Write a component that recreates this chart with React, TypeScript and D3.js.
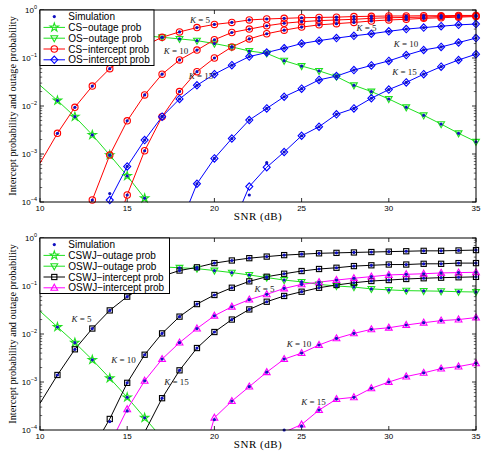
import React from 'react';
import * as d3 from 'd3';

const N = null;
const SNR = [10, 11, 12, 13, 14, 15, 16, 17, 18, 19, 20, 21, 22, 23, 24, 25, 26, 27, 28, 29, 30, 31, 32, 33, 34, 35];
const X_TICKS = [10, 15, 20, 25, 30, 35];
const Y_TICKS = [1e-4, 1e-3, 1e-2, 1e-1, 1];
const Y_TICK_EXP = ['\u22124', '\u22123', '\u22122', '\u22121', '0'];

// ---------- top panel ----------
const CS_OUTAGE = [0.027, 0.013, 0.006, 0.0025, 0.00095, 0.00035, 0.00012, 0.000015, N, N, N, N, N, N, N, N, N, N, N, N, N, N, N, N, N, N];
const OS_OUTAGE = [0.3, 0.3, 0.3, 0.3, 0.3, 0.3, 0.29, 0.27, 0.25, 0.23, 0.2, 0.17, 0.14, 0.125, 0.088, 0.068, 0.054, 0.041, 0.027, 0.02, 0.014, 0.0094, 0.0064, 0.0042, 0.0027, 0.0018];
const CS_INT_K5 = [0.00064, 0.0027, 0.0094, 0.026, 0.06, 0.11, 0.18, 0.27, 0.35, 0.43, 0.5, 0.55, 0.62, 0.65, 0.67, 0.69, 0.7, 0.71, 0.73, 0.74, 0.75, 0.75, 0.76, 0.76, 0.77, 0.77];
const CS_INT_K10 = [N, N, 1.2e-5, 1.1e-4, 9.5e-4, 4.9e-3, 0.017, 0.046, 0.091, 0.146, 0.24, 0.34, 0.4, 0.47, 0.53, 0.57, 0.6, 0.62, 0.64, 0.67, 0.69, 0.7, 0.71, 0.73, 0.74, 0.75];
const CS_INT_K15 = [N, N, N, N, 1.2e-5, 1.4e-4, 1.17e-3, 6e-3, 0.02, 0.052, 0.1, 0.17, 0.25, 0.32, 0.38, 0.44, 0.49, 0.52, 0.55, 0.59, 0.62, 0.64, 0.67, 0.69, 0.71, 0.73];
const OS_INT_K5 = [N, N, N, 1e-5, 1.1e-4, 5.5e-4, 1.95e-3, 6e-3, 0.014, 0.027, 0.046, 0.071, 0.107, 0.13, 0.16, 0.2, 0.23, 0.26, 0.29, 0.32, 0.36, 0.4, 0.43, 0.46, 0.49, 0.51];
const OS_INT_K10 = [N, N, N, N, N, N, N, N, 3e-5, 2.4e-4, 8.1e-4, 2.1e-3, 5.1e-3, 8.9e-3, 0.0156, 0.023, 0.035, 0.042, 0.056, 0.07, 0.087, 0.115, 0.147, 0.17, 0.21, 0.26];
const OS_INT_K15 = [N, N, N, N, N, N, N, N, N, N, N, 3e-5, 2.1e-4, 5.3e-4, 1.1e-3, 2.4e-3, 3.7e-3, 6.7e-3, 8.9e-3, 0.0145, 0.022, 0.031, 0.046, 0.066, 0.091, 0.12];

// simulation points that differ from the analytical curves: [series, snr, value]
const TOP_SIM_OUTLIERS: [string, number, number][] = [
  ['osK5', 14, 1.5e-4],
  ['osK15', 22, 1.4e-4],
  ['osK15', 23, 6.6e-4],
];

// ---------- bottom panel ----------
const CSWJ_OUTAGE = [0.03, 0.014, 0.0066, 0.0029, 0.0012, 0.00048, 0.00018, 0.000067, N, N, N, N, N, N, N, N, N, N, N, N, N, N, N, N, N, N];
const OSWJ_OUTAGE = [0.26, 0.26, 0.26, 0.26, 0.26, 0.26, 0.26, 0.25, 0.24, 0.23, 0.21, 0.19, 0.17, 0.15, 0.133, 0.122, 0.108, 0.1, 0.095, 0.087, 0.083, 0.08, 0.079, 0.078, 0.076, 0.075];
const CSWJ_INT_K5 = [3.6e-4, 1.4e-3, 4.8e-3, 0.013, 0.031, 0.06, 0.1, 0.16, 0.21, 0.245, 0.3, 0.34, 0.38, 0.41, 0.44, 0.46, 0.48, 0.49, 0.5, 0.51, 0.52, 0.53, 0.54, 0.54, 0.55, 0.56];
const CSWJ_INT_K10 = [N, N, N, 4e-5, 1.7e-4, 9.6e-4, 3.7e-3, 0.0103, 0.023, 0.042, 0.065, 0.092, 0.125, 0.156, 0.18, 0.205, 0.226, 0.24, 0.26, 0.27, 0.28, 0.28, 0.29, 0.29, 0.3, 0.3];
const CSWJ_INT_K15 = [N, N, N, N, N, N, 9e-5, 4.6e-4, 1.75e-3, 5.1e-3, 0.011, 0.02, 0.0325, 0.047, 0.062, 0.076, 0.092, 0.105, 0.117, 0.127, 0.133, 0.14, 0.145, 0.149, 0.152, 0.155];
const OSWJ_INT_K5 = [N, N, N, N, 5e-5, 2.7e-4, 1.06e-3, 3e-3, 6.6e-3, 0.013, 0.024, 0.037, 0.052, 0.067, 0.089, 0.108, 0.12, 0.133, 0.145, 0.157, 0.17, 0.175, 0.18, 0.187, 0.19, 0.193];
const OSWJ_INT_K10 = [N, N, N, N, N, N, N, N, N, 1e-5, 1.8e-4, 4e-4, 8e-4, 1.6e-3, 3e-3, 4e-3, 5.9e-3, 8.1e-3, 0.0103, 0.0125, 0.0135, 0.0154, 0.0172, 0.019, 0.02, 0.022];
const OSWJ_INT_K15 = [N, N, N, N, N, N, N, N, N, N, N, N, N, N, 9e-5, 1.3e-4, 2.6e-4, 4.4e-4, 4.8e-4, 7.4e-4, 1e-3, 1.3e-3, 1.55e-3, 1.9e-3, 2.1e-3, 2.45e-3];

const BOTTOM_SIM_OUTLIERS: [string, number, number][] = [
  ['cswjK10', 14, 1.5e-4],
  ['oswjK5', 15, 2.5e-4],
  ['oswjK10', 20, 1.65e-4],
  ['oswjK15', 24, 1.0e-4],
  ['oswjK15', 25, 1.2e-4],
];

// annotations: [K value, snr, probability]
const TOP_LABELS: [string, number, number][] = [
  ['5', 19.17, 0.62], ['5', 28.72, 0.416],
  ['10', 17.8, 0.142], ['10', 30.99, 0.193],
  ['15', 19.23, 0.042], ['15', 30.9, 0.0518],
];
const BOTTOM_LABELS: [string, number, number][] = [
  ['5', 12.38, 0.0205], ['5', 22.87, 0.0854],
  ['10', 14.79, 0.00288], ['10', 24.85, 0.0062],
  ['15', 17.83, 0.00101], ['15', 25.68, 0.00039],
];

const GREEN = '#1fe01f';
const RED = '#ff0000';
const BLUE = '#0000ff';
const MAGENTA = '#ff00ff';
const BLACK = '#000000';
const SIM_COLOR = '#1010c0';

type MarkerKind = 'star' | 'triDown' | 'triUp' | 'circle' | 'diamond' | 'square' | 'dot';

interface Series {
  key: string;
  color: string;
  marker: MarkerKind;
  values: (number | null)[];
}

const TOP_SERIES: Series[] = [
  { key: 'csOut', color: GREEN, marker: 'star', values: CS_OUTAGE },
  { key: 'osOut', color: GREEN, marker: 'triDown', values: OS_OUTAGE },
  { key: 'csK5', color: RED, marker: 'circle', values: CS_INT_K5 },
  { key: 'csK10', color: RED, marker: 'circle', values: CS_INT_K10 },
  { key: 'csK15', color: RED, marker: 'circle', values: CS_INT_K15 },
  { key: 'osK5', color: BLUE, marker: 'diamond', values: OS_INT_K5 },
  { key: 'osK10', color: BLUE, marker: 'diamond', values: OS_INT_K10 },
  { key: 'osK15', color: BLUE, marker: 'diamond', values: OS_INT_K15 },
];
const BOTTOM_SERIES: Series[] = [
  { key: 'cswjOut', color: GREEN, marker: 'star', values: CSWJ_OUTAGE },
  { key: 'oswjOut', color: GREEN, marker: 'triDown', values: OSWJ_OUTAGE },
  { key: 'cswjK5', color: BLACK, marker: 'square', values: CSWJ_INT_K5 },
  { key: 'cswjK10', color: BLACK, marker: 'square', values: CSWJ_INT_K10 },
  { key: 'cswjK15', color: BLACK, marker: 'square', values: CSWJ_INT_K15 },
  { key: 'oswjK5', color: MAGENTA, marker: 'triUp', values: OSWJ_INT_K5 },
  { key: 'oswjK10', color: MAGENTA, marker: 'triUp', values: OSWJ_INT_K10 },
  { key: 'oswjK15', color: MAGENTA, marker: 'triUp', values: OSWJ_INT_K15 },
];

const TOP_LEGEND: [string, string, MarkerKind, boolean][] = [
  ['Simulation', SIM_COLOR, 'dot', false],
  ['CS\u2212outage prob', GREEN, 'star', true],
  ['OS\u2212outage prob', GREEN, 'triDown', true],
  ['CS\u2212intercept prob', RED, 'circle', true],
  ['OS\u2212intercept prob', BLUE, 'diamond', true],
];
const BOTTOM_LEGEND: [string, string, MarkerKind, boolean][] = [
  ['Simulation', SIM_COLOR, 'dot', false],
  ['CSWJ\u2212outage prob', GREEN, 'star', true],
  ['OSWJ\u2212outage prob', GREEN, 'triDown', true],
  ['CSWJ\u2212intercept prob', BLACK, 'square', true],
  ['OSWJ\u2212intercept prob', MAGENTA, 'triUp', true],
];

const starPath = d3.symbol(d3.symbolStar, 22)() as string;

function Marker({ kind, cx, cy, color }: { kind: MarkerKind; cx: number; cy: number; color: string }) {
  const common = { fill: 'none', stroke: color, strokeWidth: 1.1 };
  switch (kind) {
    case 'circle':
      return <circle cx={cx} cy={cy} r={3.2} {...common} />;
    case 'diamond':
      return <path d={`M${cx},${cy - 3.7}L${cx + 3.5},${cy}L${cx},${cy + 3.7}L${cx - 3.5},${cy}Z`} {...common} />;
    case 'square':
      return <rect x={cx - 2.6} y={cy - 2.6} width={5.2} height={5.2} {...common} />;
    case 'triUp':
      return <path d={`M${cx},${cy - 3.6}L${cx + 3.4},${cy + 2.4}L${cx - 3.4},${cy + 2.4}Z`} {...common} />;
    case 'triDown':
      return <path d={`M${cx},${cy + 3.6}L${cx + 3.4},${cy - 2.4}L${cx - 3.4},${cy - 2.4}Z`} {...common} />;
    case 'star':
      return <path d={starPath} transform={`translate(${cx},${cy})`} {...common} />;
    case 'dot':
      return <circle cx={cx} cy={cy} r={1.6} fill={color} stroke="none" />;
  }
  return null;
}

const X0 = 40;
const X1 = 476;

function Panel({ top, series, legend, legendWidth, labels, outliers, id }: {
  top: number;
  series: Series[];
  legend: [string, string, MarkerKind, boolean][];
  legendWidth: number;
  labels: [string, number, number][];
  outliers: [string, number, number][];
  id: string;
}) {
  const bottom = top + 192;
  const x = d3.scaleLinear().domain([10, 35]).range([X0, X1]);
  const y = d3.scaleLog().domain([1e-4, 1]).range([bottom, top]);
  const line = d3
    .line<[number, number | null]>()
    .defined((d) => d[1] != null)
    .x((d) => x(d[0]))
    .y((d) => y(d[1] as number));
  const minor: number[] = [];
  for (let e = -4; e < 0; e++) for (let k = 2; k <= 9; k++) minor.push(k * Math.pow(10, e));
  const inRange = (s: number, v: number | null) => v != null && v >= 0.99e-4 && v <= 1 && s > 10;
  const simValue = (key: string, s: number, v: number | null) => {
    const o = outliers.find((q) => q[0] === key && q[1] === s);
    return o ? o[2] : v;
  };
  const clip = `clip-${id}`;
  const legendRowY = (i: number) => top + 6.6 + i * 10.8;
  return (
    <g>
      <defs>
        <clipPath id={clip}>
          <rect x={X0} y={top} width={X1 - X0} height={bottom - top} />
        </clipPath>
      </defs>
      <rect x={X0} y={top} width={X1 - X0} height={bottom - top} fill="#fff" />
      {X_TICKS.map((t) => (
        <g key={`xt${t}`}>
          <line x1={x(t)} x2={x(t)} y1={bottom} y2={bottom - 4} stroke="#000" strokeWidth={0.8} />
          <line x1={x(t)} x2={x(t)} y1={top} y2={top + 4} stroke="#000" strokeWidth={0.8} />
          <text x={x(t)} y={bottom + 8.5} fontSize={8} fontFamily="Liberation Sans, Arial, sans-serif" textAnchor="middle">{t}</text>
        </g>
      ))}
      {Y_TICKS.map((t, i) => (
        <g key={`yt${i}`}>
          <line x1={X0} x2={X0 + 4} y1={y(t)} y2={y(t)} stroke="#000" strokeWidth={0.8} />
          <line x1={X1} x2={X1 - 4} y1={y(t)} y2={y(t)} stroke="#000" strokeWidth={0.8} />
          <text x={37} y={y(t) + 3} fontSize={8} fontFamily="Liberation Sans, Arial, sans-serif" textAnchor="end">
            10<tspan dy={-4} fontSize={5.5}>{Y_TICK_EXP[i]}</tspan>
          </text>
        </g>
      ))}
      {minor.map((t, i) => (
        <g key={`ym${i}`}>
          <line x1={X0} x2={X0 + 2.2} y1={y(t)} y2={y(t)} stroke="#000" strokeWidth={0.6} />
          <line x1={X1} x2={X1 - 2.2} y1={y(t)} y2={y(t)} stroke="#000" strokeWidth={0.6} />
        </g>
      ))}
      <g clipPath={`url(#${clip})`}>
        {series.map((s) => (
          <path
            key={`l${s.key}`}
            d={line(SNR.map((v, i) => [v, s.values[i]] as [number, number | null])) || ''}
            fill="none"
            stroke={s.color}
            strokeWidth={1}
          />
        ))}
      </g>
      {series.map((s) => (
        <g key={`m${s.key}`}>
          {SNR.map((sv, i) =>
            inRange(sv, s.values[i]) ? (
              <Marker key={i} kind={s.marker} cx={x(sv)} cy={y(s.values[i] as number)} color={s.color} />
            ) : null
          )}
        </g>
      ))}
      {series.map((s) => (
        <g key={`s${s.key}`}>
          {SNR.map((sv, i) => {
            const v = simValue(s.key, sv, s.values[i]);
            return inRange(sv, v) ? <Marker key={i} kind="dot" cx={x(sv)} cy={y(v as number)} color={SIM_COLOR} /> : null;
          })}
        </g>
      ))}
      {labels.map((l, i) => (
        <text key={`a${i}`} x={x(l[1])} y={y(l[2])} dy="0.33em" textAnchor="middle" fontSize={9} fontFamily="Liberation Serif, Times New Roman, serif" fill="#222">
          <tspan fontStyle="italic">K</tspan>{' = '}{l[0]}
        </text>
      ))}
      <rect x={X0} y={top} width={X1 - X0} height={bottom - top} fill="none" stroke="#000" strokeWidth={1} />
      <rect x={X0} y={top} width={legendWidth} height={55.5} fill="#fff" stroke="#000" strokeWidth={1} />
      {legend.map((l, i) => {
        const cy = legendRowY(i);
        return (
          <g key={`lg${i}`}>
            {l[3] ? <line x1={43.5} x2={65} y1={cy} y2={cy} stroke={l[1]} strokeWidth={1} /> : null}
            <Marker kind={l[2]} cx={54.3} cy={cy} color={l[1]} />
            <text x={68.3} y={cy + 3.5} fontSize={10} fontFamily="Liberation Sans, Arial, sans-serif">{l[0]}</text>
          </g>
        );
      })}
      <text x={(X0 + X1) / 2} y={bottom + 18} textAnchor="middle" fontSize={11} letterSpacing={0.5} fontFamily="Liberation Serif, Times New Roman, serif">SNR (dB)</text>
      <text
        transform={`translate(16,${(top + bottom) / 2}) rotate(-90)`}
        textAnchor="middle"
        fontSize={10.3}
        fontFamily="Liberation Serif, Times New Roman, serif"
      >
        Intercept probability and outage probability
      </text>
    </g>
  );
}

export default function App() {
  return (
    <svg width={482} height={454} style={{ position: 'absolute', left: 0, top: 0, background: '#fff' }}>
      <rect x={0} y={0} width={482} height={454} fill="#fff" />
      <Panel top={10} series={TOP_SERIES} legend={TOP_LEGEND} legendWidth={114} labels={TOP_LABELS} outliers={TOP_SIM_OUTLIERS} id="top" />
      <Panel top={238} series={BOTTOM_SERIES} legend={BOTTOM_LEGEND} legendWidth={129.5} labels={BOTTOM_LABELS} outliers={BOTTOM_SIM_OUTLIERS} id="bottom" />
    </svg>
  );
}
